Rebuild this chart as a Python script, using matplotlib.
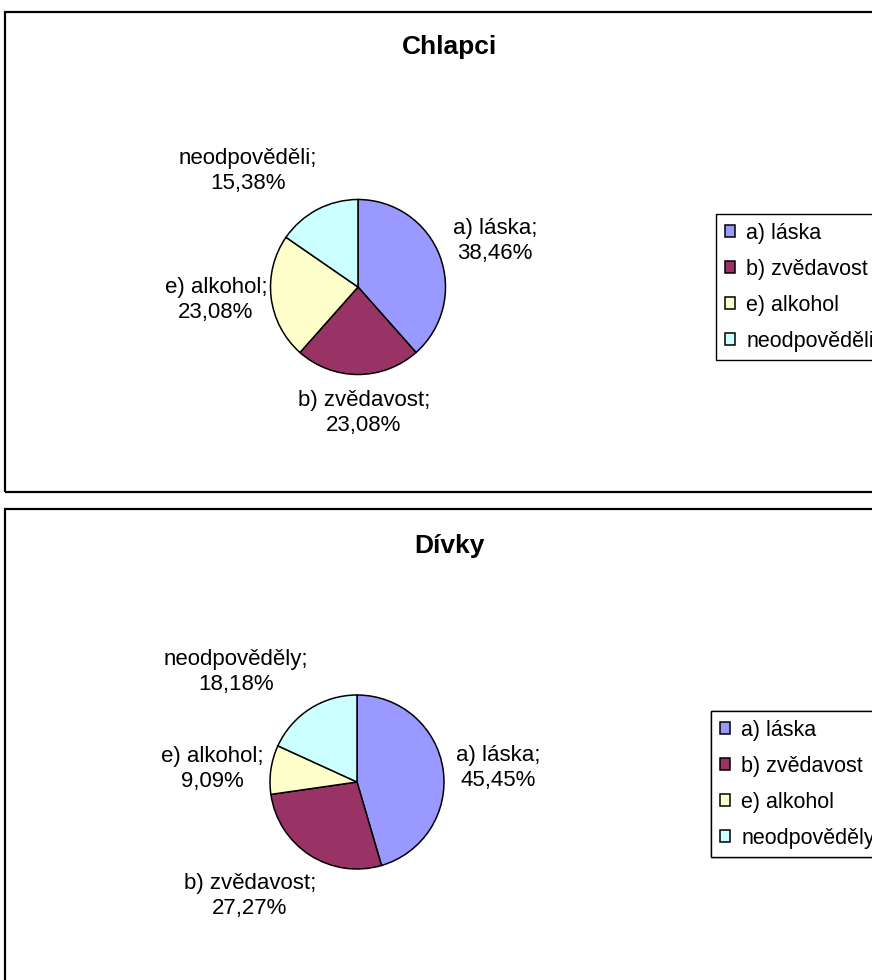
import matplotlib
matplotlib.use("Agg")
import matplotlib.pyplot as plt
from matplotlib.patches import Rectangle

plt.rcParams['font.family'] = ['Liberation Sans', 'DejaVu Sans']

# ---- data ----
titles = ["Chlapci", "Dívky"]
categories_boys = ["a) láska", "b) zvědavost", "e) alkohol", "neodpověděli"]
categories_girls = ["a) láska", "b) zvědavost", "e) alkohol", "neodpověděly"]
counts_boys = [5, 3, 3, 2]
counts_girls = [5, 3, 1, 2]
colors = ["#9999FF", "#993366", "#FFFFCC", "#CCFFFF"]

W, H = 872, 980
fig = plt.figure(figsize=(W / 100, H / 100), dpi=100)
ax = fig.add_axes([0, 0, 1, 1])

def Y(y):
    return H - y

FS = 16
LFS = 15.5
TFS = 19

panels = [
    dict(top=12, bottom=492, title_y=47, cx=358, cy=287, R=87.5,
         cats=categories_boys, vals=counts_boys,
         label_pos=[(495, 241), (364, 413), (216, 300), (248, 171)],
         leg=(716, 214)),
    dict(top=509, bottom=1100, title_y=546, cx=357, cy=782, R=87,
         cats=categories_girls, vals=counts_girls,
         label_pos=[(498, 768), (250, 896), (212, 769), (236, 672)],
         leg=(711, 711)),
]

for title, p in zip(titles, panels):
    ax.add_patch(Rectangle((5, Y(p['bottom'])), 1000, p['bottom'] - p['top'],
                           fill=False, edgecolor='black', linewidth=1.6, zorder=1))
    ax.text(449, Y(p['title_y']), title, ha='center', va='center',
            fontsize=TFS, fontweight='bold')
    wedges, _ = ax.pie(p['vals'], colors=colors, startangle=90, counterclock=False,
                       center=(p['cx'], Y(p['cy'])), radius=p['R'],
                       wedgeprops=dict(edgecolor='black', linewidth=1.1))
    total = sum(p['vals'])
    for cat, v, (lx, ly) in zip(p['cats'], p['vals'], p['label_pos']):
        pct = f"{v / total * 100:.2f}".replace('.', ',') + "%"
        ax.text(lx, Y(ly), f"{cat};\n{pct}", ha='center', va='center',
                fontsize=FS, linespacing=1.2)
    lx, ly = p['leg']
    leg = ax.legend(wedges, p['cats'], loc='upper left',
                    bbox_to_anchor=(lx / W, 1 - ly / H), bbox_transform=fig.transFigure,
                    fontsize=LFS, frameon=True, fancybox=False, framealpha=1,
                    edgecolor='black', borderpad=0.4, handlelength=0.5,
                    handleheight=0.5, handletextpad=0.5, labelspacing=0.7,
                    borderaxespad=0)
    leg.get_frame().set_linewidth(1.0)
    ax.add_artist(leg)

ax.set_xlim(0, W)
ax.set_ylim(0, H)
ax.set_aspect('auto')
ax.axis('off')

fig.savefig("out.png", dpi=100)
